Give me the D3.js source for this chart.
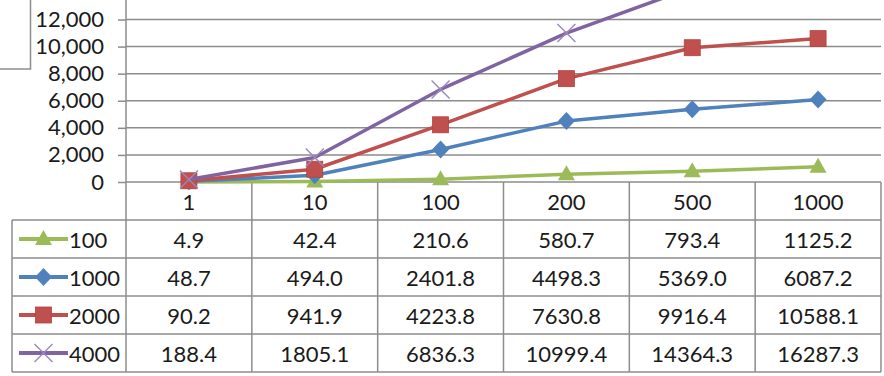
<!DOCTYPE html>
<html>
<head>
<meta charset="utf-8">
<script src="https://cdn.jsdelivr.net/npm/d3@7"></script>
<style>
  html, body { margin: 0; padding: 0; background: #fff; }
  svg { display: block; }
  text { font-family: Lato, "Open Sans", sans-serif; fill: #1a1a1a; }
</style>
</head>
<body>
<svg id="chart" width="884" height="376"></svg>
<script>
// Categories along the x axis (also the table header row)
const categories = ["1", "10", "100", "200", "500", "1000"];
// Series names shown in the table legend column
const seriesNames = ["100", "1000", "2000", "4000"];
// Series values, one array per series
const values100  = [4.9, 42.4, 210.6, 580.7, 793.4, 1125.2];
const values1000 = [48.7, 494.0, 2401.8, 4498.3, 5369.0, 6087.2];
const values2000 = [90.2, 941.9, 4223.8, 7630.8, 9916.4, 10588.1];
const values4000 = [188.4, 1805.1, 6836.3, 10999.4, 14364.3, 16287.3];
// Value-axis ticks (labelled ones in view) and gridlines
const yTicks = [0, 2000, 4000, 6000, 8000, 10000, 12000];
const yGrid = [0, 2000, 4000, 6000, 8000, 10000, 12000, 14000, 16000, 18000];

const seriesValues = [values100, values1000, values2000, values4000];
const colors = ["#9bbb59", "#4f81bd", "#c0504d", "#8064a2"];
const markers = ["triangle", "diamond", "square", "cross"];

const svg = d3.select("#chart");

// Layout
const plotLeft = 126, plotRight = 881;
const zeroY = 182;
const pxPerUnit = 162.5 / 12000;
const tableLeft = 12;
const headerBottom = 220;
const rowH = 38;
const gridColor = "#8c8c8c";
const fontSize = "22px";

const x = d3.scaleBand().domain(categories).range([plotLeft, plotRight]);
const y = d3.scaleLinear().domain([0, 18000]).range([zeroY, zeroY - 18000 * pxPerUnit]);
const cx = c => x(c) + x.bandwidth() / 2;

// Box at top-left (axis title frame)
svg.append("rect")
  .attr("x", -10).attr("y", -10).attr("width", 40.5).attr("height", 79)
  .attr("fill", "none").attr("stroke", gridColor).attr("stroke-width", 1.5);

// Tick marks and labels
const yAxis = d3.axisLeft(y).tickValues(yTicks)
  .tickSize(8).tickPadding(14)
  .tickFormat(d3.format(","));
const yg = svg.append("g").attr("transform", `translate(${plotLeft},0)`).call(yAxis);
yg.select(".domain").remove();
yg.selectAll(".tick line").attr("stroke", gridColor).attr("stroke-width", 1.5);
yg.selectAll(".tick text").style("font-size", fontSize).attr("fill", "#1a1a1a");

// Horizontal gridlines
svg.append("g").selectAll("line").data(yGrid).join("line")
  .attr("x1", plotLeft).attr("x2", plotRight)
  .attr("y1", d => y(d)).attr("y2", d => y(d))
  .attr("stroke", gridColor).attr("stroke-width", 1.5);

// Value axis line running down through the table
svg.append("line")
  .attr("x1", plotLeft).attr("x2", plotLeft)
  .attr("y1", -80).attr("y2", headerBottom + rowH * seriesNames.length)
  .attr("stroke", gridColor).attr("stroke-width", 1.5);

// Data table grid
const tableG = svg.append("g");
const tableBottom = headerBottom + rowH * seriesNames.length;
// vertical dividers between categories (header + body)
tableG.selectAll("line.v").data(categories).join("line")
  .attr("class", "v")
  .attr("x1", d => x(d) + x.bandwidth()).attr("x2", d => x(d) + x.bandwidth())
  .attr("y1", zeroY).attr("y2", tableBottom)
  .attr("stroke", gridColor).attr("stroke-width", 1.5);
// left border of legend column
tableG.append("line")
  .attr("x1", tableLeft).attr("x2", tableLeft)
  .attr("y1", headerBottom).attr("y2", tableBottom)
  .attr("stroke", gridColor).attr("stroke-width", 1.5);
// row borders
tableG.selectAll("line.h").data(d3.range(seriesNames.length + 1)).join("line")
  .attr("class", "h")
  .attr("x1", tableLeft).attr("x2", plotRight)
  .attr("y1", i => headerBottom + i * rowH).attr("y2", i => headerBottom + i * rowH)
  .attr("stroke", gridColor).attr("stroke-width", 1.5);

// Header row: category labels
tableG.selectAll("text.cat").data(categories).join("text")
  .attr("class", "cat")
  .attr("x", d => cx(d)).attr("y", (zeroY + headerBottom) / 2)
  .attr("text-anchor", "middle").attr("dominant-baseline", "central")
  .style("font-size", fontSize)
  .text(d => d);

// Marker drawing
function drawMarker(g, type, color, px, py) {
  if (type === "triangle") {
    g.append("path")
      .attr("d", `M${px},${py - 9} L${px + 8.5},${py + 6} L${px - 8.5},${py + 6} Z`)
      .attr("fill", color);
  } else if (type === "diamond") {
    g.append("path")
      .attr("d", `M${px},${py - 9} L${px + 8.5},${py} L${px},${py + 9} L${px - 8.5},${py} Z`)
      .attr("fill", color);
  } else if (type === "square") {
    g.append("rect")
      .attr("x", px - 8).attr("y", py - 8).attr("width", 16).attr("height", 16)
      .attr("fill", color).attr("stroke", "#b3423f").attr("stroke-width", 0.8);
  } else {
    g.append("path")
      .attr("d", `M${px - 9},${py - 9} L${px + 9},${py + 9} M${px + 9},${py - 9} L${px - 9},${py + 9}`)
      .attr("stroke", "#9a88bd").attr("stroke-width", 1.4).attr("fill", "none");
  }
}

// Table body: legend keys and values
seriesNames.forEach((name, i) => {
  const rowMid = headerBottom + i * rowH + rowH / 2;
  const g = tableG.append("g");
  g.append("line")
    .attr("x1", 19).attr("x2", 68).attr("y1", rowMid).attr("y2", rowMid)
    .attr("stroke", colors[i]).attr("stroke-width", 4);
  drawMarker(g, markers[i], colors[i], 43.5, rowMid);
  g.append("text")
    .attr("x", 69).attr("y", rowMid)
    .attr("dominant-baseline", "central")
    .style("font-size", fontSize)
    .text(name);
  g.selectAll("text.val").data(seriesValues[i]).join("text")
    .attr("class", "val")
    .attr("x", (d, j) => cx(categories[j])).attr("y", rowMid)
    .attr("text-anchor", "middle").attr("dominant-baseline", "central")
    .style("font-size", fontSize)
    .text(d => d.toFixed(1));
});

// Series lines with markers
const line = d3.line().x((d, j) => cx(categories[j])).y(d => y(d));
seriesValues.forEach((vals, i) => {
  const g = svg.append("g");
  g.append("path")
    .datum(vals)
    .attr("d", line)
    .attr("fill", "none")
    .attr("stroke", colors[i])
    .attr("stroke-width", 3.5)
    .attr("stroke-linejoin", "round");
  vals.forEach((v, j) => drawMarker(g, markers[i], colors[i], cx(categories[j]), y(v)));
});
</script>
</body>
</html>
